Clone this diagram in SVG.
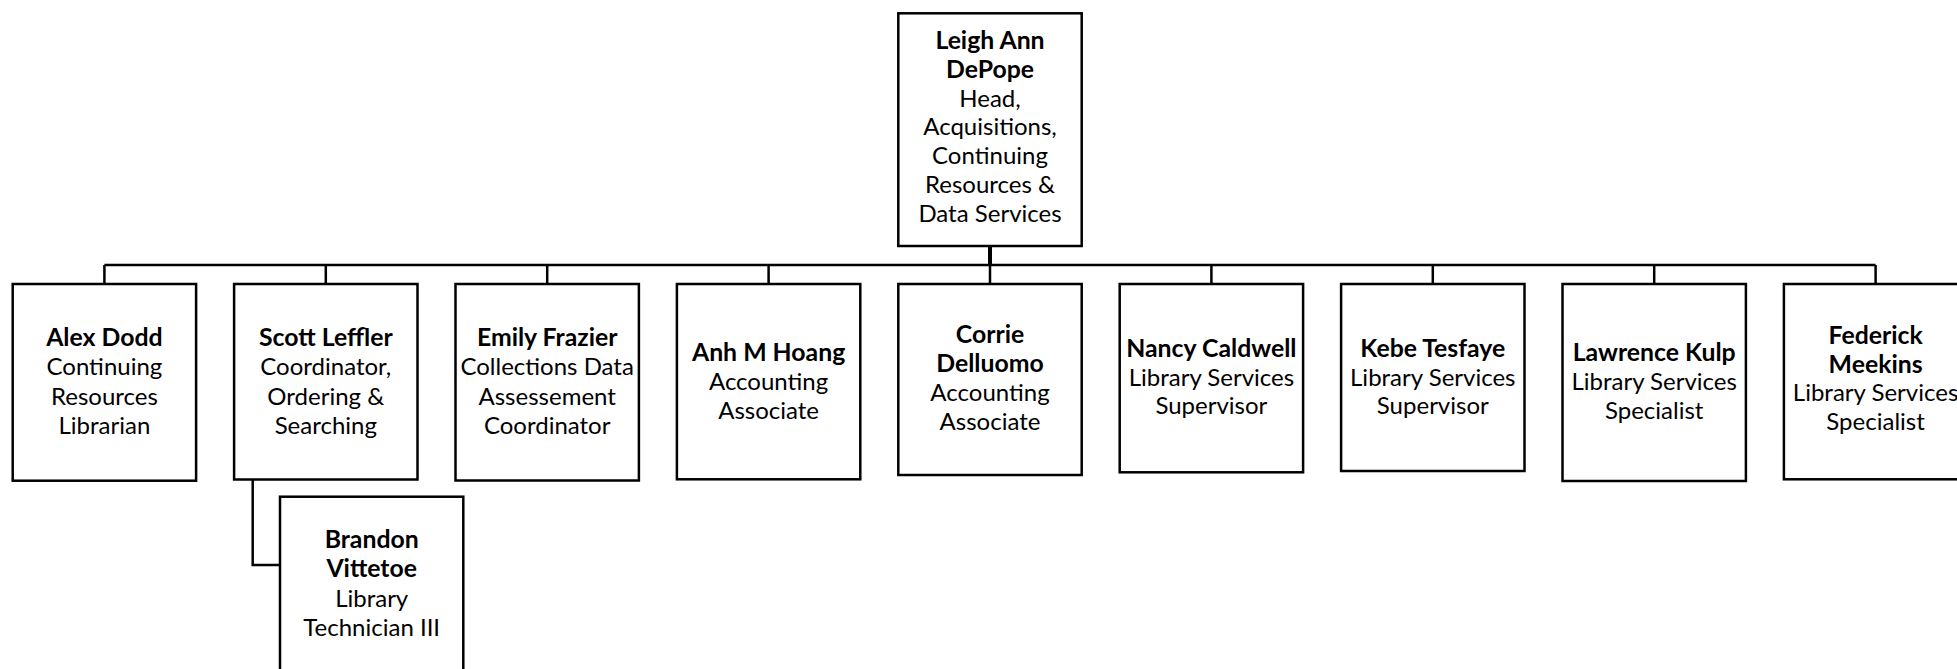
<svg xmlns="http://www.w3.org/2000/svg" width="1957" height="669" viewBox="0 0 1957 669">
  <style>
    .box { fill: #ffffff; stroke: #000000; stroke-width: 2.5; }
    .conn { fill: none; stroke: #000000; stroke-width: 2.5; }
    .stem { fill: none; stroke: #000000; stroke-width: 4; }
    text { font-family: Lato, "Open Sans", sans-serif; font-size: 24px; fill: #000000; text-anchor: middle; }
    .n { font-weight: bold; font-size: 24.8px; }
  </style>
  <rect width="1957" height="669" fill="#ffffff"/>
  <g id="connectors">
    <line class="stem" x1="990" y1="246" x2="990" y2="265"/>
    <line class="conn" x1="104.4" y1="265" x2="1875.6" y2="265"/>
    <line class="conn" x1="104.4" y1="265" x2="104.4" y2="284"/>
    <line class="conn" x1="325.8" y1="265" x2="325.8" y2="284"/>
    <line class="conn" x1="547.2" y1="265" x2="547.2" y2="284"/>
    <line class="conn" x1="768.6" y1="265" x2="768.6" y2="284"/>
    <line class="conn" x1="990" y1="265" x2="990" y2="284"/>
    <line class="conn" x1="1211.4" y1="265" x2="1211.4" y2="284"/>
    <line class="conn" x1="1432.8" y1="265" x2="1432.8" y2="284"/>
    <line class="conn" x1="1654.2" y1="265" x2="1654.2" y2="284"/>
    <line class="conn" x1="1875.6" y1="265" x2="1875.6" y2="284"/>
    <path class="conn" d="M252.7,479.5 V565 H280"/>
  </g>
  <g id="leigh">
    <rect class="box" x="898.3" y="13.3" width="183.4" height="232.7"/>
    <text x="990" y="49" class="n">Leigh Ann</text>
    <text x="990" y="77.8" class="n">DePope</text>
    <text x="990" y="106.6">Head,</text>
    <text x="990" y="135.4">Acquisitions,</text>
    <text x="990" y="164.2">Continuing</text>
    <text x="990" y="193">Resources &amp;</text>
    <text x="990" y="221.7">Data Services</text>
  </g>
  <g id="alex">
    <rect class="box" x="12.7" y="284" width="183.4" height="196.7"/>
    <text x="104.4" y="345.5" class="n">Alex Dodd</text>
    <text x="104.4" y="375">Continuing</text>
    <text x="104.4" y="404.5">Resources</text>
    <text x="104.4" y="434">Librarian</text>
  </g>
  <g id="scott">
    <rect class="box" x="234.1" y="284" width="183.4" height="195.5"/>
    <text x="325.8" y="345.5" class="n">Scott Leffler</text>
    <text x="325.8" y="375">Coordinator,</text>
    <text x="325.8" y="404.5">Ordering &amp;</text>
    <text x="325.8" y="434">Searching</text>
  </g>
  <g id="emily">
    <rect class="box" x="455.5" y="284" width="183.4" height="196.5"/>
    <text x="547.2" y="345.5" class="n">Emily Frazier</text>
    <text x="547.2" y="375">Collections Data</text>
    <text x="547.2" y="404.5">Assessement</text>
    <text x="547.2" y="434">Coordinator</text>
  </g>
  <g id="anh">
    <rect class="box" x="676.9" y="284" width="183.4" height="195.3"/>
    <text x="768.6" y="361" class="n">Anh M Hoang</text>
    <text x="768.6" y="390">Accounting</text>
    <text x="768.6" y="418.5">Associate</text>
  </g>
  <g id="corrie">
    <rect class="box" x="898.3" y="284" width="183.4" height="191"/>
    <text x="990" y="343" class="n">Corrie</text>
    <text x="990" y="372" class="n">Delluomo</text>
    <text x="990" y="401">Accounting</text>
    <text x="990" y="430">Associate</text>
  </g>
  <g id="nancy">
    <rect class="box" x="1119.7" y="284" width="183.4" height="188.3"/>
    <text x="1211.4" y="357" class="n">Nancy Caldwell</text>
    <text x="1211.4" y="385.5">Library Services</text>
    <text x="1211.4" y="414">Supervisor</text>
  </g>
  <g id="kebe">
    <rect class="box" x="1341.1" y="284" width="183.4" height="187"/>
    <text x="1432.8" y="357" class="n">Kebe Tesfaye</text>
    <text x="1432.8" y="385.5">Library Services</text>
    <text x="1432.8" y="414">Supervisor</text>
  </g>
  <g id="lawrence">
    <rect class="box" x="1562.5" y="284" width="183.4" height="197"/>
    <text x="1654.2" y="361" class="n">Lawrence Kulp</text>
    <text x="1654.2" y="390">Library Services</text>
    <text x="1654.2" y="418.5">Specialist</text>
  </g>
  <g id="federick">
    <rect class="box" x="1783.9" y="284" width="183.4" height="195.3"/>
    <text x="1875.6" y="344" class="n">Federick</text>
    <text x="1875.6" y="372.5" class="n">Meekins</text>
    <text x="1875.6" y="401">Library Services</text>
    <text x="1875.6" y="430">Specialist</text>
  </g>
  <g id="brandon">
    <rect class="box" x="280" y="496.7" width="183.3" height="197"/>
    <text x="371.7" y="548" class="n">Brandon</text>
    <text x="371.7" y="577.3" class="n">Vittetoe</text>
    <text x="371.7" y="606.6">Library</text>
    <text x="371.7" y="635.9">Technician III</text>
  </g>
</svg>
